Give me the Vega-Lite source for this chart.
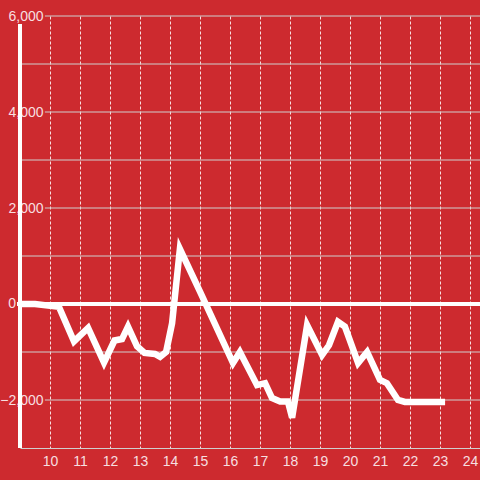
{
  "$schema": "https://vega.github.io/schema/vega-lite/v6.json",
  "width": 460,
  "height": 432,
  "autosize": "none",
  "padding": {"left": 20, "top": 16, "right": 0, "bottom": 32},
  "background": "#cd2a2f",
  "config": {
    "view": {"stroke": null},
    "font": "Liberation Sans",
    "axisX": {
      "grid": true, "gridColor": "#ffffff", "gridDash": [3, 2], "gridWidth": 1, "gridOpacity": 0.85,
      "domain": true, "domainColor": "#cfcfcf", "domainWidth": 1,
      "ticks": false, "tickSize": 0,
      "labelPadding": 6, "labelFontSize": 14, "labelColor": "#f7dfe0",
      "labelFlush": false, "labelOverlap": false, "labelFont": "Liberation Sans", "title": null
    },
    "axisY": {
      "grid": false, "domain": false, "ticks": false, "tickSize": 0,
      "labelAlign": "right", "labelBaseline": "middle", "labelPadding": -23,
      "labelFontSize": 14, "labelColor": "#f7dfe0", "labelOverlap": false,
      "labelFont": "Liberation Sans", "zindex": 1, "title": null
    }
  },
  "datasets": {
    "series": [
      {"x": 9.0, "y": 0},
      {"x": 9.5, "y": 0},
      {"x": 10.3, "y": -60},
      {"x": 10.8, "y": -780},
      {"x": 11.27, "y": -500},
      {"x": 11.8, "y": -1220},
      {"x": 12.15, "y": -760},
      {"x": 12.4, "y": -730},
      {"x": 12.6, "y": -470},
      {"x": 12.9, "y": -880},
      {"x": 13.15, "y": -1020},
      {"x": 13.5, "y": -1040},
      {"x": 13.67, "y": -1100},
      {"x": 13.87, "y": -1000},
      {"x": 14.07, "y": -400},
      {"x": 14.33, "y": 1150},
      {"x": 15.0, "y": 260},
      {"x": 16.1, "y": -1230},
      {"x": 16.33, "y": -1000},
      {"x": 16.9, "y": -1690},
      {"x": 17.17, "y": -1650},
      {"x": 17.4, "y": -1960},
      {"x": 17.67, "y": -2030},
      {"x": 17.93, "y": -2030},
      {"x": 18.07, "y": -2370},
      {"x": 18.57, "y": -440},
      {"x": 19.07, "y": -1060},
      {"x": 19.3, "y": -860},
      {"x": 19.6, "y": -370},
      {"x": 19.83, "y": -470},
      {"x": 20.27, "y": -1230},
      {"x": 20.57, "y": -1000},
      {"x": 21.0, "y": -1580},
      {"x": 21.23, "y": -1650},
      {"x": 21.6, "y": -2000},
      {"x": 21.83, "y": -2040},
      {"x": 23.17, "y": -2040}
    ],
    "gridFull": [{"v": -1000}, {"v": 1000}, {"v": 3000}, {"v": 5000}],
    "gridLab": [{"v": -2000}, {"v": 2000}, {"v": 4000}, {"v": 6000}],
    "zeroLab": [{"v": 0}]
  },
  "layer": [
    {
      "data": {"name": "gridFull"},
      "mark": {"type": "rule", "color": "#cfcfcf", "strokeWidth": 1},
      "encoding": {
        "y": {"field": "v", "type": "quantitative", "scale": {"domain": [-3000, 6000], "nice": false},
              "axis": {"values": [-2000, 2000, 4000, 6000], "labelExpr": "format(datum.value, ',')", "labelFontSize": 14, "labelPadding": -23}},
        "x": {"datum": 9, "type": "quantitative", "scale": {"domain": [9, 24.3333], "nice": false, "zero": false},
              "axis": {"values": [10, 11, 12, 13, 14, 15, 16, 17, 18, 19, 20, 21, 22, 23, 24], "labelExpr": "format(datum.value, 'd')", "labelFontSize": 14}},
        "x2": {"datum": 24.3333}
      }
    },
    {
      "data": {"name": "gridLab"},
      "mark": {"type": "rule", "color": "#cfcfcf", "strokeWidth": 1},
      "encoding": {
        "y": {"field": "v", "type": "quantitative", "scale": {"domain": [-3000, 6000], "nice": false},
              "axis": {"values": [-2000, 2000, 4000, 6000], "labelExpr": "format(datum.value, ',')", "labelFontSize": 14, "labelPadding": -23}},
        "x": {"datum": 9.83, "type": "quantitative", "scale": {"domain": [9, 24.3333], "nice": false, "zero": false},
              "axis": {"values": [10, 11, 12, 13, 14, 15, 16, 17, 18, 19, 20, 21, 22, 23, 24], "labelExpr": "format(datum.value, 'd')", "labelFontSize": 14}},
        "x2": {"datum": 24.3333}
      }
    },
    {
      "data": {"name": "series"},
      "mark": {"type": "rule", "color": "#ffffff", "strokeWidth": 3},
      "encoding": {
        "x": {"datum": 9, "type": "quantitative", "scale": {"domain": [9, 24.3333], "nice": false, "zero": false},
              "axis": {"values": [10, 11, 12, 13, 14, 15, 16, 17, 18, 19, 20, 21, 22, 23, 24], "labelExpr": "format(datum.value, 'd')", "labelFontSize": 14}},
        "y": {"datum": 5830, "type": "quantitative", "scale": {"domain": [-3000, 6000], "nice": false},
              "axis": {"values": [-2000, 2000, 4000, 6000], "labelExpr": "format(datum.value, ',')", "labelFontSize": 14, "labelPadding": -23}},
        "y2": {"datum": -3000}
      }
    },
    {
      "data": {"name": "series"},
      "mark": {"type": "rule", "color": "#ffffff", "strokeWidth": 3},
      "encoding": {
        "y": {"datum": 0, "type": "quantitative", "scale": {"domain": [-3000, 6000], "nice": false},
              "axis": {"values": [-2000, 2000, 4000, 6000], "labelExpr": "format(datum.value, ',')", "labelFontSize": 14, "labelPadding": -23}},
        "x": {"datum": 8.9, "type": "quantitative", "scale": {"domain": [9, 24.3333], "nice": false, "zero": false},
              "axis": {"values": [10, 11, 12, 13, 14, 15, 16, 17, 18, 19, 20, 21, 22, 23, 24], "labelExpr": "format(datum.value, 'd')", "labelFontSize": 14}},
        "x2": {"datum": 24.3333}
      }
    },
    {
      "data": {"name": "zeroLab"},
      "mark": {"type": "text", "align": "right", "baseline": "middle", "fontSize": 14, "font": "Liberation Sans", "color": "#f7dfe0"},
      "encoding": {
        "y": {"field": "v", "type": "quantitative", "scale": {"domain": [-3000, 6000], "nice": false},
              "axis": {"values": [-2000, 2000, 4000, 6000], "labelExpr": "format(datum.value, ',')", "labelFontSize": 14, "labelPadding": -23}},
        "x": {"datum": 8.87, "type": "quantitative", "scale": {"domain": [9, 24.3333], "nice": false, "zero": false},
              "axis": {"values": [10, 11, 12, 13, 14, 15, 16, 17, 18, 19, 20, 21, 22, 23, 24], "labelExpr": "format(datum.value, 'd')", "labelFontSize": 14}},
        "text": {"field": "v", "type": "quantitative", "format": ","}
      }
    },
    {
      "data": {"name": "series"},
      "mark": {"type": "line", "color": "#ffffff", "strokeWidth": 6.5},
      "encoding": {
        "x": {"field": "x", "type": "quantitative", "scale": {"domain": [9, 24.3333], "nice": false, "zero": false},
              "axis": {"values": [10, 11, 12, 13, 14, 15, 16, 17, 18, 19, 20, 21, 22, 23, 24], "labelExpr": "format(datum.value, 'd')", "labelFontSize": 14}},
        "y": {"field": "y", "type": "quantitative", "scale": {"domain": [-3000, 6000], "nice": false},
              "axis": {"values": [-2000, 2000, 4000, 6000], "labelExpr": "format(datum.value, ',')", "labelFontSize": 14, "labelPadding": -23}}
      }
    }
  ]
}
